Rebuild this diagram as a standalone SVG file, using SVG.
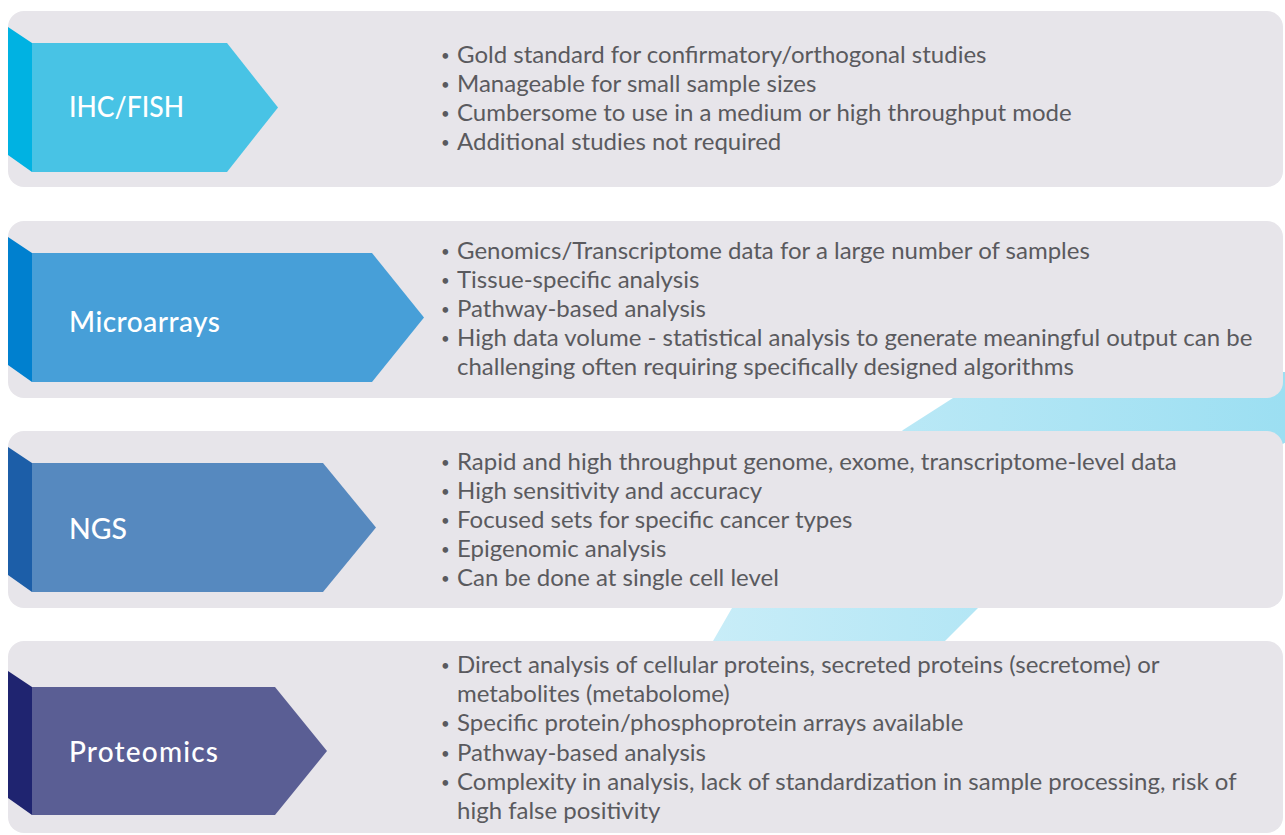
<svg xmlns="http://www.w3.org/2000/svg" width="1285" height="835" viewBox="0 0 1285 835">
  <style>
    .card { fill: #e7e5ea; }
    .label { font-family: Lato, "Noto Sans", sans-serif; font-size: 28px; font-weight: 500; fill: #ffffff; }
    .item { font-family: Lato, "Noto Sans", sans-serif; font-size: 24px; fill: #5a5a5e; }
    .dot { font-family: Lato, "Noto Sans", sans-serif; font-size: 15px; fill: #5a5a5e; }
  </style>
  <defs>
    <linearGradient id="ribbon" gradientUnits="userSpaceOnUse" x1="700" y1="0" x2="1285" y2="0">
      <stop offset="0" stop-color="#c9edf8"/>
      <stop offset="1" stop-color="#9cdff2"/>
    </linearGradient>
  </defs>
  <rect width="1285" height="835" fill="#ffffff"/>

  <!-- light ribbon behind the cards -->
  <path d="M990,372 L1290,372 L1290,440 L978,608 L926,660 L705,660 L713,641 L732,608 L903,430 L953,398 Z" fill="url(#ribbon)"/>

  <g id="ihc-fish">
    <rect class="card" x="8" y="11" width="1275" height="176" rx="16"/>
    <polygon points="8,27 32,43 32,172 8,155" fill="#00b2e2"/>
    <polygon points="32,43 227,43 278,107.5 227,172 32,172" fill="#48c3e5"/>
    <text class="label" x="69" y="117" textLength="115" lengthAdjust="spacingAndGlyphs">IHC/FISH</text>
    <text class="dot">
      <tspan x="441" y="61">•</tspan><tspan x="441" y="90">•</tspan><tspan x="441" y="119">•</tspan><tspan x="441" y="148">•</tspan>
    </text>
    <text class="item">
      <tspan x="457" y="63">Gold standard for confirmatory/orthogonal studies</tspan>
      <tspan x="457" y="92">Manageable for small sample sizes</tspan>
      <tspan x="457" y="121">Cumbersome to use in a medium or high throughput mode</tspan>
      <tspan x="457" y="150">Additional studies not required</tspan>
    </text>
  </g>

  <g id="microarrays">
    <rect class="card" x="8" y="221" width="1275" height="177" rx="16"/>
    <polygon points="8,237 32,253 32,382 8,365" fill="#0080cf"/>
    <polygon points="32,253 372,253 424,317.5 372,382 32,382" fill="#479fd8"/>
    <text class="label" x="69" y="332" textLength="151" lengthAdjust="spacing">Microarrays</text>
    <text class="dot">
      <tspan x="441" y="257">•</tspan><tspan x="441" y="286">•</tspan><tspan x="441" y="315">•</tspan><tspan x="441" y="344">•</tspan>
    </text>
    <text class="item">
      <tspan x="457" y="259">Genomics/Transcriptome data for a large number of samples</tspan>
      <tspan x="457" y="288">Tissue-specific analysis</tspan>
      <tspan x="457" y="317">Pathway-based analysis</tspan>
      <tspan x="457" y="346">High data volume - statistical analysis to generate meaningful output can be</tspan>
      <tspan x="457" y="375">challenging often requiring specifically designed algorithms</tspan>
    </text>
  </g>

  <g id="ngs">
    <rect class="card" x="8" y="431" width="1275" height="177" rx="16"/>
    <polygon points="8,447 32,463 32,592 8,575" fill="#1c5ea8"/>
    <polygon points="32,463 323,463 376,527.5 323,592 32,592" fill="#5689bf"/>
    <text class="label" x="69" y="539" textLength="58" lengthAdjust="spacingAndGlyphs">NGS</text>
    <text class="dot">
      <tspan x="441" y="468">•</tspan><tspan x="441" y="497">•</tspan><tspan x="441" y="526">•</tspan><tspan x="441" y="555">•</tspan><tspan x="441" y="584">•</tspan>
    </text>
    <text class="item">
      <tspan x="457" y="470">Rapid and high throughput genome, exome, transcriptome-level data</tspan>
      <tspan x="457" y="499">High sensitivity and accuracy</tspan>
      <tspan x="457" y="528">Focused sets for specific cancer types</tspan>
      <tspan x="457" y="557">Epigenomic analysis</tspan>
      <tspan x="457" y="586">Can be done at single cell level</tspan>
    </text>
  </g>

  <g id="proteomics">
    <rect class="card" x="8" y="641" width="1275" height="192" rx="16"/>
    <polygon points="8,671 32,687 32,815 8,798" fill="#1f2470"/>
    <polygon points="32,687 275,687 327,751 275,815 32,815" fill="#5a5e94"/>
    <text class="label" x="69" y="762" textLength="149" lengthAdjust="spacing">Proteomics</text>
    <text class="dot">
      <tspan x="441" y="671">•</tspan><tspan x="441" y="729">•</tspan><tspan x="441" y="759">•</tspan><tspan x="441" y="788">•</tspan>
    </text>
    <text class="item">
      <tspan x="457" y="673">Direct analysis of cellular proteins, secreted proteins (secretome) or</tspan>
      <tspan x="457" y="702">metabolites (metabolome)</tspan>
      <tspan x="457" y="731">Specific protein/phosphoprotein arrays available</tspan>
      <tspan x="457" y="761">Pathway-based analysis</tspan>
      <tspan x="457" y="790">Complexity in analysis, lack of standardization in sample processing, risk of</tspan>
      <tspan x="457" y="819">high false positivity</tspan>
    </text>
  </g>
</svg>
